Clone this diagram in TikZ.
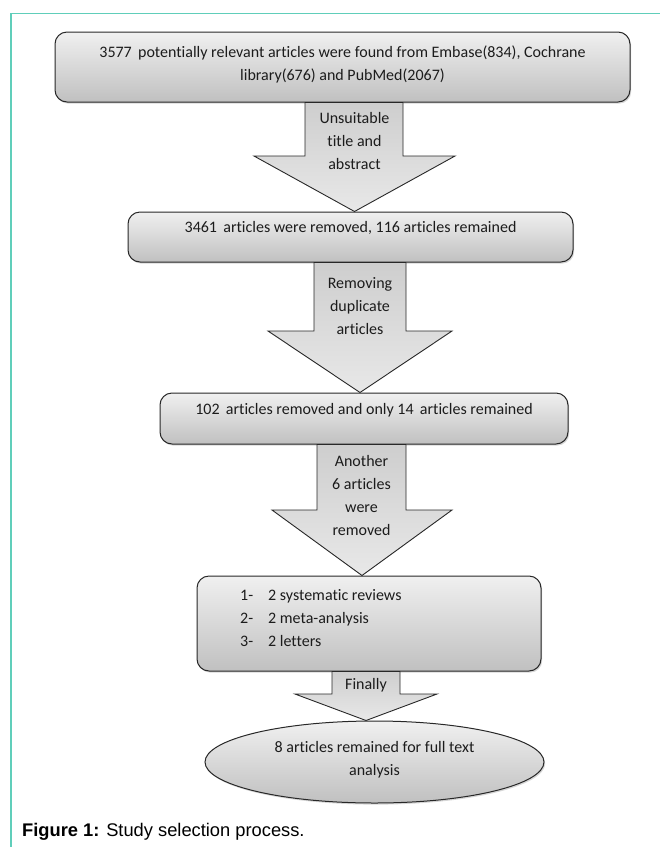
\documentclass[tikz,border=0pt]{standalone}
\usepackage{fontspec}
\setmainfont{Carlito}[Ligatures={NoCommon,TeX}]
\newfontfamily\capfont{Liberation Sans}
\usetikzlibrary{shadows,shapes.geometric}
\definecolor{frameteal}{RGB}{96,206,186}
\definecolor{edgec}{RGB}{40,40,40}
\definecolor{txtc}{RGB}{28,28,28}
\definecolor{boxtop}{RGB}{240,240,240}
\definecolor{boxbot}{RGB}{192,192,192}
\definecolor{arrtop}{RGB}{206,206,206}
\definecolor{arrbot}{RGB}{232,232,232}
\tikzset{
  flowbox/.style={draw=edgec, line width=1pt, rounded corners=12pt, inner sep=0pt,
    top color=boxtop, bottom color=boxbot,
    drop shadow={shadow xshift=1.2pt, shadow yshift=-1.6pt, fill=black!35, opacity=0.45}},
  flowell/.style={ellipse, draw=edgec, line width=1pt, inner sep=0pt,
    top color=boxtop, bottom color=boxbot,
    drop shadow={shadow xshift=1.2pt, shadow yshift=-1.6pt, fill=black!35, opacity=0.45}},
  blockarrow/.style={draw=edgec, line width=0.9pt, line join=miter, top color=arrtop, bottom color=arrbot},
  boxtext/.style={text=txtc, font=\fontsize{16}{23}\selectfont, align=center, inner sep=0pt},
  captext/.style={text=black, font=\capfont\fontsize{18.3}{22}\selectfont, inner sep=0pt, anchor=west}
}
\begin{document}
\begin{tikzpicture}[x=1pt,y=-1pt]
\useasboundingbox (0,0) rectangle (660,847);
\fill[white] (0,0) rectangle (660,847);
% frame
\draw[frameteal, line width=1.6pt] (11,847) -- (11,13.5) -- (660,13.5);
% boxes
\node[flowbox, minimum width=575pt, minimum height=70pt] (b1) at (342.5,67) {};
\node[flowbox, minimum width=445pt, minimum height=50pt] (b2) at (350.5,237) {};
\node[flowbox, minimum width=408pt, minimum height=51pt] (b3) at (364,418.5) {};
\node[flowbox, minimum width=344pt, minimum height=95pt] (b4) at (369,623.5) {};
\node[flowell, minimum width=339pt, minimum height=82pt] (e5) at (374.5,762) {};
% block arrows
\draw[blockarrow] (305,0 |- b1.south) -- (305,156) -- (254,156) -- (354.5,0 |- b2.north)
   -- (455,156) -- (403,156) -- (403,0 |- b1.south) -- cycle;
\draw[blockarrow] (314,0 |- b2.south) -- (314,331) -- (268,331) -- (360,0 |- b3.north)
   -- (452,331) -- (406,331) -- (406,0 |- b2.south) -- cycle;
\draw[blockarrow] (317,0 |- b3.south) -- (317,510) -- (272,510) -- (362,0 |- b4.north)
   -- (452,510) -- (406,510) -- (406,0 |- b3.south) -- cycle;
\draw[blockarrow] (332,0 |- b4.south) -- (332,694) -- (295,694) -- (366,0 |- e5.north)
   -- (437,694) -- (400,694) -- (400,0 |- b4.south) -- cycle;
% texts
\node[boxtext] (t1) at (342.5,64.5) {3577\, potentially relevant articles were found from Embase(834), Cochrane\\library(676) and PubMed(2067)};
\node[boxtext] (t2) at (350.5,228) {3461\, articles were removed, 116 articles remained};
\node[boxtext] (t3) at (364,410) {102\, articles removed and only 14\, articles remained};
\node[boxtext, align=left, anchor=west] (t4) at (240,618.5) {\makebox[28pt][l]{1-}2 systematic reviews\\\makebox[28pt][l]{2-}2 meta-analysis\\\makebox[28pt][l]{3-}2 letters};
\node[boxtext] (t5) at (374.5,760) {8 articles remained for full text\\analysis};
\node[boxtext] (a1) at (354.5,140.5) {Unsuitable\\title and\\abstract};
\node[boxtext] (a2) at (360,306) {Removing\\duplicate\\articles};
\node[boxtext] (a3) at (361.5,495) {Another\\6 articles\\were\\removed};
\node[boxtext] (a4) at (366,685) {Finally};
% caption
\node[captext] (cap) at (22,832) {\textbf{Figure 1:} Study selection process.};
\end{tikzpicture}
\end{document}
